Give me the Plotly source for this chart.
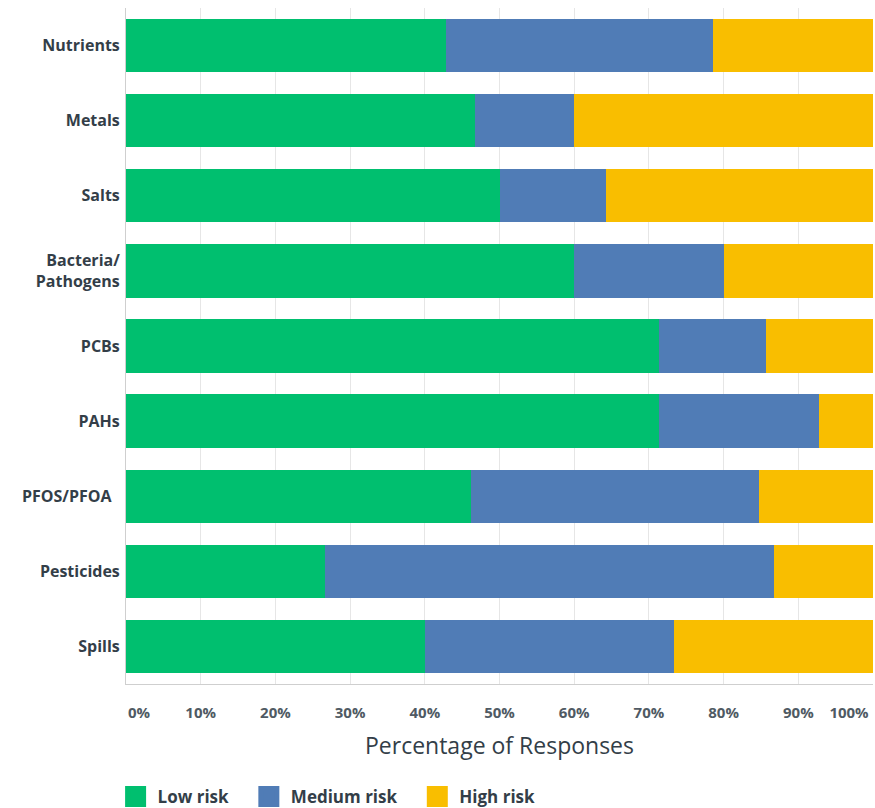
import plotly.graph_objects as go

categories = ["Nutrients", "Metals", "Salts", "Bacteria/<br>Pathogens", "PCBs", "PAHs",
              "PFOS/PFOA  ", "Pesticides", "Spills"]
low_risk = [42.9, 46.7, 50.0, 60.0, 71.4, 71.4, 46.2, 26.7, 40.0]
medium_risk = [35.7, 13.3, 14.3, 20.0, 14.3, 21.4, 38.5, 60.0, 33.3]
high_risk = [21.4, 40.0, 35.7, 20.0, 14.3, 7.2, 15.3, 13.3, 26.7]
series_names = ["Low risk", "Medium risk", "High risk"]
colors = ["#00bf6f", "#507cb6", "#f9be00"]
x_ticks = [0, 10, 20, 30, 40, 50, 60, 70, 80, 90, 100]
x_tick_labels = ["0%", "10%", "20%", "30%", "40%", "50%", "60%", "70%", "80%", "90%", "100%"]

fig = go.Figure()
for name, vals, col in zip(series_names, [low_risk, medium_risk, high_risk], colors):
    fig.add_trace(go.Bar(y=categories, x=vals, name=name, orientation="h",
                         marker=dict(color=col, line=dict(width=0)),
                         showlegend=False))
    fig.add_trace(go.Scatter(x=[None], y=[None], mode="markers",
                             name=name + "\u00a0" * 3,
                             marker=dict(symbol="square", size=22, color=col,
                                         line=dict(color=col, width=5)),
                             showlegend=True))

# empty helper traces so the overlay axes carrying the end labels are drawn
for ax in ["x2", "x3"]:
    fig.add_trace(go.Scatter(x=[None], y=[None], xaxis=ax, yaxis="y", mode="markers",
                             showlegend=False, hoverinfo="skip"))

tick_font = dict(family="Open Sans, sans-serif", size=15, color="#4f5a63", weight="bold")
mid_text = [""] + x_tick_labels[1:-1] + [""]
edge_axis = dict(overlaying="x", anchor="y", side="bottom", range=[0, 100],
                 showgrid=False, showline=False, zeroline=False, automargin=False,
                 ticklabeloverflow="allow", tickfont=tick_font, ticklabelstandoff=18)

fig.update_layout(
    barmode="stack",
    bargap=0.29,
    width=875, height=808,
    margin=dict(l=126, r=2, t=8, b=124, autoexpand=False),
    plot_bgcolor="white", paper_bgcolor="white",
    font=dict(family="Open Sans, sans-serif", color="#333e48"),
    xaxis=dict(range=[0, 100], tickvals=x_ticks, ticktext=mid_text,
               showgrid=True, gridcolor="#e6e6e6", gridwidth=1,
               showline=True, linecolor="#cfcfcf", linewidth=1,
               zeroline=False, automargin=False, ticklabeloverflow="allow",
               tickfont=tick_font, ticklabelstandoff=15,
               title=dict(text="Percentage of Responses",
                          font=dict(family="Open Sans, sans-serif", size=23, color="#333e48"),
                          standoff=16)),
    xaxis2=dict(edge_axis, tickvals=x_ticks[:1], ticktext=x_tick_labels[:1], ticklabelshift=13),
    xaxis3=dict(edge_axis, tickvals=x_ticks[-1:], ticktext=x_tick_labels[-1:], ticklabelshift=-24),
    yaxis=dict(autorange="reversed", showgrid=False, showline=True, automargin=False,
               linecolor="#cfcfcf", linewidth=1,
               tickfont=dict(family="Open Sans, sans-serif", size=16, color="#333e48", weight="bold"),
               ticklabelstandoff=2),
    legend=dict(orientation="h", x=-0.0166, xanchor="left", y=-0.167, yanchor="middle",
                font=dict(family="Open Sans, sans-serif", size=17, color="#333e48", weight="bold"),
                itemsizing="trace", traceorder="normal", itemwidth=34),
)
fig.write_html("out.html", config={"displayModeBar": False},
               post_script="document.body.style.margin='0px';")
